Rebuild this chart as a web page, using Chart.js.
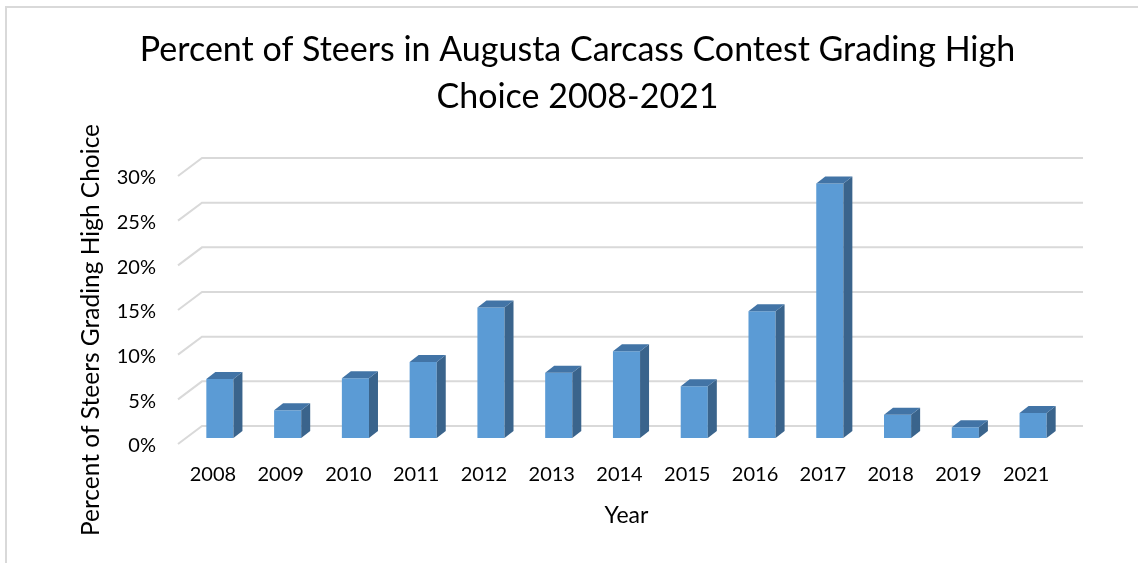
<!DOCTYPE html>
<html>
<head>
<meta charset="utf-8">
<script src="https://cdn.jsdelivr.net/npm/chart.js@4.4.1/dist/chart.umd.min.js"></script>
<style>
  html, body { margin: 0; padding: 0; background: #fff; }
  #wrap { position: relative; width: 1138px; height: 563px; overflow: hidden; }
  #frame { position: absolute; left: 5px; top: 6px; width: 1200px; height: 600px;
           border-left: 2px solid #d9d9d9; border-top: 2px solid #d9d9d9; }
  canvas { position: absolute; left: 0; top: 0; }
</style>
</head>
<body>
<div id="wrap">
  <div id="frame"></div>
  <canvas id="chart" width="1138" height="563"></canvas>
</div>
<script>
// data (percent of steers grading high choice)
const years = ['2008', '2009', '2010', '2011', '2012', '2013', '2014',
               '2015', '2016', '2017', '2018', '2019', '2021'];
const highChoice = [6.6, 3.1, 6.7, 8.5, 14.6, 7.3, 9.7, 5.8, 14.2, 28.5, 2.6, 1.2, 2.8];
const yMax = 30;
const yStep = 5;

const FONT = 'Lato, "Open Sans", sans-serif';
const FRONT = '#5b9bd5', TOP = '#4274a6', SIDE = '#3a648c', GRID = '#d9d9d9';

// fake 3d offsets (px)
const DEPTH_X = 9, DEPTH_Y = -7;     // bar depth
const BACK_X = 16, BACK_Y = -12;     // back wall vs bar plane
const FRONT_X = -8, FRONT_Y = 6;     // floor front edge vs bar plane

const wallPlugin = {
    id: 'wall',
    beforeDatasetsDraw(chart) {
        const { ctx, chartArea: a, scales: { y } } = chart;
        ctx.save();
        ctx.strokeStyle = GRID;
        ctx.lineWidth = 2;
        y.ticks.forEach(t => {
            const py = y.getPixelForValue(t.value);
            ctx.beginPath();
            ctx.moveTo(a.left + FRONT_X, py + FRONT_Y);
            ctx.lineTo(a.left + BACK_X, py + BACK_Y);
            ctx.lineTo(a.right + BACK_X, py + BACK_Y);
            ctx.stroke();
        });
        ctx.restore();
    }
};

const boxPlugin = {
    id: 'box3d',
    afterDatasetsDraw(chart) {
        const ctx = chart.ctx;
        ctx.save();
        chart.getDatasetMeta(0).data.forEach(bar => {
            const { x, y, base, width } = bar.getProps(['x', 'y', 'base', 'width'], true);
            const l = x - width / 2, r = x + width / 2;
            ctx.fillStyle = SIDE;
            ctx.beginPath();
            ctx.moveTo(r, y);
            ctx.lineTo(r + DEPTH_X, y + DEPTH_Y);
            ctx.lineTo(r + DEPTH_X, base + DEPTH_Y);
            ctx.lineTo(r, base);
            ctx.closePath();
            ctx.fill();
            ctx.fillStyle = TOP;
            ctx.beginPath();
            ctx.moveTo(l, y);
            ctx.lineTo(l + DEPTH_X, y + DEPTH_Y);
            ctx.lineTo(r + DEPTH_X, y + DEPTH_Y);
            ctx.lineTo(r, y);
            ctx.closePath();
            ctx.fill();
        });
        ctx.restore();
    }
};

// y axis title sits a bit lower than the plot centre in the original
const yTitlePlugin = {
    id: 'yTitle',
    afterDraw(chart) {
        const { ctx, chartArea: a } = chart;
        ctx.save();
        ctx.translate(91, (a.top + a.bottom) / 2 + 26);
        ctx.rotate(-Math.PI / 2);
        ctx.font = '24.5px ' + FONT;
        ctx.fillStyle = '#000';
        ctx.textAlign = 'center';
        ctx.textBaseline = 'middle';
        ctx.fillText('Percent of Steers Grading High Choice', 0, 0);
        ctx.restore();
    }
};

new Chart(document.getElementById('chart').getContext('2d'), {
    type: 'bar',
    data: {
        labels: years,
        datasets: [{
            data: highChoice,
            backgroundColor: FRONT,
            barPercentage: 0.4,
            categoryPercentage: 1.0
        }]
    },
    options: {
        responsive: false,
        animation: false,
        layout: { padding: { left: 17, right: 0, top: 0, bottom: 34 } },
        plugins: {
            legend: { display: false },
            tooltip: { enabled: false },
            title: {
                display: true,
                text: ['Percent of Steers in Augusta Carcass Contest Grading High', 'Choice 2008-2021'],
                color: '#000',
                font: { family: FONT, size: 34, weight: 'normal', lineHeight: 47 / 34 },
                padding: { top: 27, bottom: 49 }
            }
        },
        scales: {
            x: {
                grid: { display: false, drawTicks: false },
                border: { display: false },
                ticks: { color: '#000', font: { family: FONT, size: 20 }, padding: 25, labelOffset: -7 },
                title: {
                    display: true, text: 'Year', color: '#000',
                    font: { family: FONT, size: 23 }, padding: { top: 0, bottom: 0 }
                },
                afterFit(s) { s.paddingRight = 71; s.height = 91; }
            },
            y: {
                min: 0,
                max: yMax,
                grid: { display: false, drawTicks: false },
                border: { display: false },
                ticks: {
                    stepSize: yStep, color: '#000', padding: 30, labelOffset: 8,
                    font: { family: FONT, size: 20 },
                    callback: v => v + '%'
                },
                afterFit(s) { s.width = 169; }
            }
        }
    },
    plugins: [wallPlugin, boxPlugin, yTitlePlugin]
});
</script>
</body>
</html>
